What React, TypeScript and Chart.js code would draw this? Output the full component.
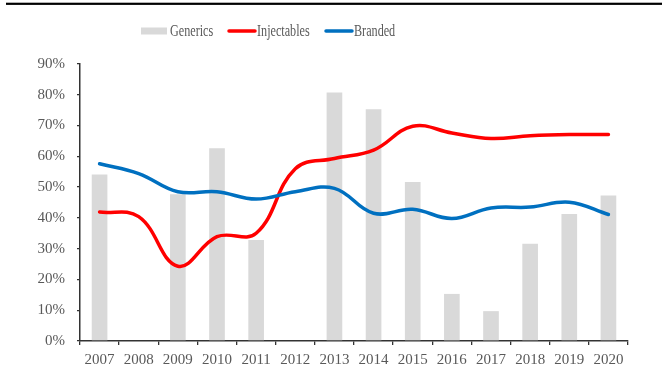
import React, { useEffect, useRef } from "react";
import { Chart, registerables } from "chart.js";

Chart.register(...registerables);

const years = ["2007", "2008", "2009", "2010", "2011", "2012", "2013", "2014", "2015", "2016", "2017", "2018", "2019", "2020"];
const generics = [54.1, -0.3, 47.7, 62.6, 32.8, -0.3, 80.7, 75.3, 51.7, 15.3, 9.7, 31.6, 41.3, 47.3];
const injectables = [41.9, 40.4, 24.3, 33.9, 35.0, 56.0, 59.3, 62.0, 69.8, 67.6, 65.8, 66.7, 67.1, 67.1];
const branded = [57.6, 54.4, 48.5, 48.5, 46.1, 48.5, 49.6, 41.5, 42.8, 39.8, 43.2, 43.5, 45.1, 41.1];
const yTicks = [0, 10, 20, 30, 40, 50, 60, 70, 80, 90];

const GRAY = "#d9d9d9";
const RED = "#ff0000";
const BLUE = "#0070c0";
const TEXT = "#595959";
const FONT = "'Liberation Serif', 'Times New Roman', serif";

const decorPlugin = {
  id: "decor",
  afterDraw(chart: any) {
    const ctx = chart.ctx;
    ctx.save();
    // top rule
    ctx.fillStyle = "#000";
    ctx.fillRect(6, 2.7, 656, 2.2);
    // legend
    const items = [
      { label: "Generics", type: "box", color: GRAY, x: 141 },
      { label: "Injectables", type: "line", color: RED, x: 228 },
      { label: "Branded", type: "line", color: BLUE, x: 325 },
    ];
    const cy = 31;
    items.forEach((it) => {
      if (it.type === "box") {
        ctx.fillStyle = it.color;
        ctx.fillRect(it.x, cy - 3.5, 26, 7);
      } else {
        ctx.strokeStyle = it.color;
        ctx.lineWidth = 3.5;
        ctx.lineCap = "round";
        ctx.beginPath();
        ctx.moveTo(it.x + 1, cy);
        ctx.lineTo(it.x + 27, cy);
        ctx.stroke();
      }
      ctx.save();
      ctx.translate(it.x + 29, cy);
      ctx.scale(0.76, 1);
      ctx.fillStyle = TEXT;
      ctx.font = "16px " + FONT;
      ctx.textBaseline = "middle";
      ctx.textAlign = "left";
      ctx.fillText(it.label, 0, 1);
      ctx.restore();
    });
    ctx.restore();
  },
};

export default function App() {
  const ref = useRef<HTMLCanvasElement | null>(null);
  useEffect(() => {
    document.body.style.margin = "0";
    const canvas = ref.current;
    if (!canvas) return;
    const chart = new Chart(canvas, {
      type: "bar",
      data: {
        labels: years,
        datasets: [
          {
            type: "line",
            label: "Branded",
            data: branded,
            borderColor: BLUE,
            backgroundColor: BLUE,
            borderWidth: 3.5,
            pointRadius: 0,
            tension: 0.4,
            borderCapStyle: "round",
            order: 0,
          } as any,
          {
            type: "line",
            label: "Injectables",
            data: injectables,
            borderColor: RED,
            backgroundColor: RED,
            borderWidth: 3.5,
            pointRadius: 0,
            tension: 0.4,
            borderCapStyle: "round",
            order: 1,
          } as any,
          {
            type: "bar",
            label: "Generics",
            data: generics,
            backgroundColor: GRAY,
            borderWidth: 0,
            barPercentage: 0.4,
            categoryPercentage: 1,
            order: 2,
          },
        ],
      },
      options: {
        responsive: false,
        animation: false,
        layout: { padding: { left: 0, right: 34, top: 64, bottom: 0 } },
        plugins: {
          legend: { display: false },
          tooltip: { enabled: false },
        },
        scales: {
          x: {
            offset: true,
            grid: {
              offset: true,
              drawOnChartArea: false,
              drawTicks: true,
              tickLength: 4,
              color: "#333",
              lineWidth: 1.3,
            },
            border: { display: true, color: "#333", width: 1.5 },
            ticks: {
              color: TEXT,
              font: { family: FONT, size: 15 },
              padding: 6,
              maxRotation: 0,
              autoSkip: false,
            },
            afterFit: (s: any) => {
              s.height = 37;
            },
          },
          y: {
            min: 0,
            max: 90,
            afterBuildTicks: (s: any) => {
              s.ticks = yTicks.map((v) => ({ value: v }));
            },
            grid: {
              drawOnChartArea: false,
              drawTicks: true,
              tickLength: 3,
              color: "#333",
              lineWidth: 1.3,
            },
            border: { display: true, color: "#333", width: 1.5 },
            ticks: {
              color: TEXT,
              font: { family: FONT, size: 15 },
              padding: 12,
              callback: (v: any) => v + "%",
            },
            afterFit: (s: any) => {
              s.width = 80;
            },
          },
        },
      },
      plugins: [decorPlugin],
    });
    return () => chart.destroy();
  }, []);
  return (
    <div style={{ width: 662, height: 378 }}>
      <canvas ref={ref} width={662} height={378} />
    </div>
  );
}
